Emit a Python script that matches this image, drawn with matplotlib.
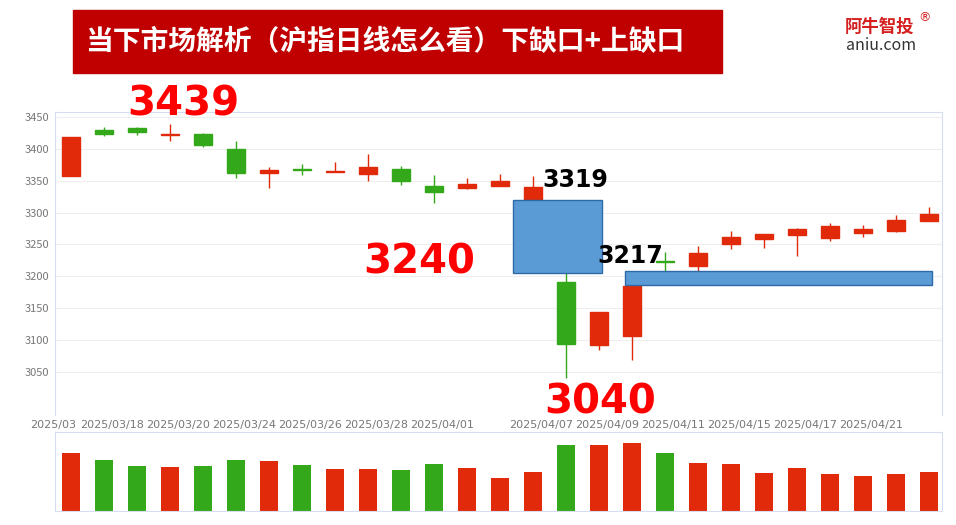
import matplotlib
matplotlib.use("Agg")
import matplotlib.pyplot as plt
from matplotlib.patches import Rectangle

plt.rcParams['font.family'] = ['Noto Sans CJK SC', 'DejaVu Sans']

dates = ["2025/03/17", "2025/03/18", "2025/03/19", "2025/03/20", "2025/03/21",
         "2025/03/24", "2025/03/25", "2025/03/26", "2025/03/27", "2025/03/28",
         "2025/03/31", "2025/04/01", "2025/04/02", "2025/04/03", "2025/04/07",
         "2025/04/08", "2025/04/09", "2025/04/10", "2025/04/11", "2025/04/14",
         "2025/04/15", "2025/04/16", "2025/04/17", "2025/04/18", "2025/04/21",
         "2025/04/22", "2025/04/23"]
opens = [3358, 3429, 3432, 3422, 3423, 3399, 3362, 3368, 3363, 3360, 3369, 3341, 3338,
         3342, 3320, 3191, 3093, 3107, 3224, 3217, 3250, 3259, 3265, 3260, 3268, 3271, 3287]
closes = [3418, 3423, 3427, 3424, 3406, 3362, 3367, 3367, 3366, 3372, 3349, 3333, 3345,
          3349, 3340, 3094, 3144, 3185, 3223, 3236, 3261, 3266, 3274, 3279, 3274, 3289, 3298]
highs = [3419, 3434, 3435, 3439, 3425, 3412, 3371, 3377, 3380, 3392, 3373, 3359, 3355,
         3360, 3357, 3205, 3144, 3185, 3238, 3248, 3271, 3267, 3276, 3284, 3281, 3297, 3309]
lows = [3357, 3420, 3421, 3413, 3403, 3354, 3338, 3359, 3363, 3349, 3344, 3315, 3337,
        3342, 3319, 3040, 3084, 3069, 3209, 3209, 3243, 3245, 3232, 3256, 3261, 3269, 3287]
volumes = [57, 50, 44, 43, 44, 50, 49, 45, 41, 41, 40, 46, 42, 33, 39, 65, 65, 67, 57,
           47, 46, 38, 42, 37, 35, 37, 39]
up_flags = [True, False, False, True, False, False, True, False, True, True, False, False,
            True, True, True, False, True, True, False, True, True, True, True, True,
            True, True, True]
label_idx = [1, 3, 5, 7, 9, 11, 14, 16, 18, 20, 22, 24]

RED = "#e02a0a"
GREEN = "#34a81b"

fig = plt.figure(figsize=(9.56, 5.25), dpi=100)
W, H = 956, 525

def px_axes(x0, y0, x1, y1):
    return fig.add_axes([x0 / W, 1 - y1 / H, (x1 - x0) / W, (y1 - y0) / H])

def ftext(x, y, s, **kw):
    return fig.text(x / W, 1 - y / H, s, **kw)

ax = px_axes(55, 112, 942, 415)
n = len(dates)
xs = list(range(n))
for i in xs:
    c = RED if up_flags[i] else GREEN
    ax.vlines(i, lows[i], highs[i], color=c, lw=1, zorder=2)
    lo, hi = min(opens[i], closes[i]), max(opens[i], closes[i])
    ax.add_patch(Rectangle((i - 0.27, lo), 0.54, max(hi - lo, 1.2), color=c, zorder=3))
ax.set_xlim(-0.485, 26.39)
ax.set_ylim(2982.5, 3457.8)
ax.set_yticks(range(3050, 3451, 50))
ax.tick_params(axis='y', length=0, labelsize=8, labelcolor="#777777", pad=4)
ax.set_xticks([])
ax.grid(axis='y', color="#eeeeee", lw=0.8)
for s in ax.spines.values():
    s.set_color("#d8dcf0")
ax.spines['bottom'].set_visible(False)

# gap boxes
ax.add_patch(Rectangle((13.4, 3205), 2.7, 115, fc="#5b9bd5", ec="#2e6aa8", lw=1, zorder=5))
ax.add_patch(Rectangle((16.8, 3187), 9.3, 22, fc="#5b9bd5", ec="#2e6aa8", lw=1, zorder=5))

big = dict(color="#ff0000", fontsize=29, fontweight='bold', family='DejaVu Sans',
           va='center', ha='center', zorder=6)
ftext(183, 104, "3439", **big)
ftext(419, 263, "3240", **big)
ftext(600, 402, "3040", **big)
mid = dict(color="black", fontsize=17, fontweight='bold', family='DejaVu Sans',
           va='center', ha='center', zorder=6)
ftext(575, 180, "3319", **mid)
ftext(630, 256, "3217", **mid)

ftext(53, 425, "2025/03", ha='center', va='center', fontsize=8, color="#777777",
      family='DejaVu Sans')
for i in label_idx:
    ftext(55 + (i + 0.485) * 33 + 8, 425, dates[i], ha='center',
          va='center', fontsize=8, color="#777777", family='DejaVu Sans')

axv = px_axes(55, 432, 942, 511)
axv.bar(xs, volumes, width=0.54, color=[RED if u else GREEN for u in up_flags])
axv.set_xlim(-0.485, 26.39)
axv.set_ylim(0, 78)
axv.set_xticks([])
axv.set_yticks([])
for s in axv.spines.values():
    s.set_color("#d8dcf0")

# header
fig.patches.append(Rectangle((73 / W, 1 - 73 / H), 649 / W, 63 / H, transform=fig.transFigure,
                             color="#c00000", zorder=0))
ftext(85, 42, "当下市场解析（沪指日线怎么看）下缺口+上缺口", color="white",
      fontsize=20, fontweight='bold', va='center', ha='left')
ftext(845, 27, "阿牛智投", color="#d42020", fontsize=12.5, fontweight='bold',
      va='center', ha='left')
ftext(918, 18, "®", color="#d42020", fontsize=9, va='center', ha='left',
      family='DejaVu Sans')
ftext(846, 45, "aniu.com", color="#333333", fontsize=11.5, va='center', ha='left')

fig.savefig("out.png", dpi=100)
